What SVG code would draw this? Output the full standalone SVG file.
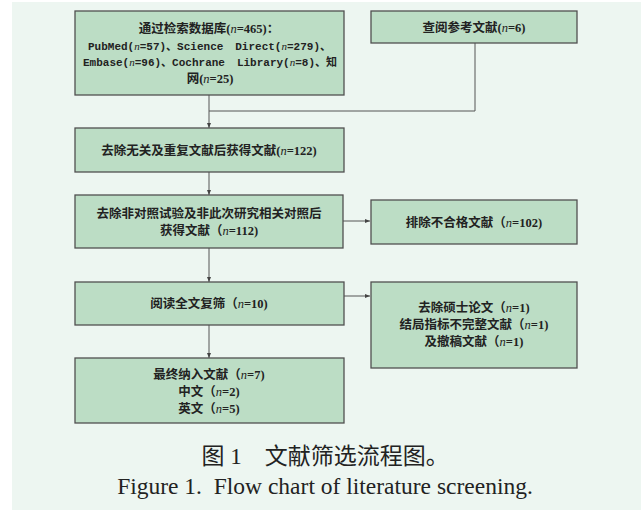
<svg xmlns="http://www.w3.org/2000/svg" width="641" height="510" viewBox="0 0 641 510">
<style>
.box{fill:#BCDDC5;stroke:#505050;stroke-width:1.3}
.t{font-family:"Liberation Serif","Noto Sans CJK SC",serif;font-size:12.5px;font-weight:bold;fill:#222;text-anchor:middle}
.m{font-family:"Liberation Mono","Noto Sans CJK SC",monospace;font-size:11px;font-weight:bold;fill:#222}
.i{font-family:"Liberation Serif",serif;font-style:italic;font-weight:normal}
.c{fill:none;stroke:#555;stroke-width:1}
.cap{font-family:"Liberation Serif","Noto Sans CJK SC",serif;fill:#222;text-anchor:middle}
</style>
<defs>
<marker id="ah" viewBox="0 0 10 10" refX="10" refY="5" markerWidth="5" markerHeight="5" orient="auto" markerUnits="userSpaceOnUse">
<path d="M0,1 L10,5 L0,9 z" fill="#444"/>
</marker>
</defs>
<rect x="0" y="0" width="641" height="510" fill="#ffffff"/>
<rect x="12" y="2" width="629" height="508" fill="#EDF6F1"/>

<g id="connectors">
<polyline class="c" points="209,95 209,111 475,111 475,43"/>
<line class="c" x1="209" y1="111" x2="209" y2="128" marker-end="url(#ah)"/>
<line class="c" x1="209" y1="172" x2="209" y2="195" marker-end="url(#ah)"/>
<line class="c" x1="343" y1="221" x2="370" y2="221" marker-end="url(#ah)"/>
<line class="c" x1="209" y1="248" x2="209" y2="282" marker-end="url(#ah)"/>
<line class="c" x1="344" y1="296" x2="370" y2="296" marker-end="url(#ah)"/>
<line class="c" x1="209" y1="325" x2="209" y2="358" marker-end="url(#ah)"/>
</g>

<g id="search">
<rect class="box" x="75" y="11" width="269" height="84"/>
<text class="t" x="209" y="33">通过检索数据库(<tspan class="i">n</tspan>=465)：</text>
<text class="m" x="88" y="50">PubMed(<tspan class="i">n</tspan>=57)、Science</text>
<text class="m" x="331" y="50" text-anchor="end">Direct(<tspan class="i">n</tspan>=279)、</text>
<text class="m" x="83" y="66">Embase(<tspan class="i">n</tspan>=96)、Cochrane</text>
<text class="m" x="337" y="66" text-anchor="end">Library(<tspan class="i">n</tspan>=8)、知</text>
<text class="t" x="210" y="83">网(<tspan class="i">n</tspan>=25)</text>
</g>

<g id="refs">
<rect class="box" x="371" y="11" width="206" height="32"/>
<text class="t" x="474" y="32">查阅参考文献(<tspan class="i">n</tspan>=6)</text>
</g>

<g id="dedup">
<rect class="box" x="75" y="128" width="269" height="44"/>
<text class="t" x="209" y="155">去除无关及重复文献后获得文献(<tspan class="i">n</tspan>=122)</text>
</g>

<g id="controlled">
<rect class="box" x="75" y="195" width="268" height="53"/>
<text class="t" x="209" y="218">去除非对照试验及非此次研究相关对照后</text>
<text class="t" x="209" y="235">获得文献（<tspan class="i">n</tspan>=112)</text>
</g>

<g id="excluded">
<rect class="box" x="371" y="200" width="206" height="44"/>
<text class="t" x="474" y="227">排除不合格文献（<tspan class="i">n</tspan>=102)</text>
</g>

<g id="fulltext">
<rect class="box" x="75" y="282" width="269" height="43"/>
<text class="t" x="209" y="308">阅读全文复筛（<tspan class="i">n</tspan>=10)</text>
</g>

<g id="removed">
<rect class="box" x="371" y="282" width="206" height="86"/>
<text class="t" x="474" y="312">去除硕士论文（<tspan class="i">n</tspan>=1)</text>
<text class="t" x="474" y="329">结局指标不完整文献（<tspan class="i">n</tspan>=1)</text>
<text class="t" x="474" y="346">及撤稿文献（<tspan class="i">n</tspan>=1)</text>
</g>

<g id="included">
<rect class="box" x="75" y="358" width="269" height="65"/>
<text class="t" x="209" y="379">最终纳入文献（<tspan class="i">n</tspan>=7)</text>
<text class="t" x="209" y="396">中文（<tspan class="i">n</tspan>=2)</text>
<text class="t" x="209" y="413">英文（<tspan class="i">n</tspan>=5)</text>
</g>

<text class="cap" x="325" y="464" font-size="23">图 1　文献筛选流程图。</text>
<text class="cap" x="325" y="494" font-size="23.5">Figure 1.&#160; Flow chart of literature screening.</text>
</svg>
